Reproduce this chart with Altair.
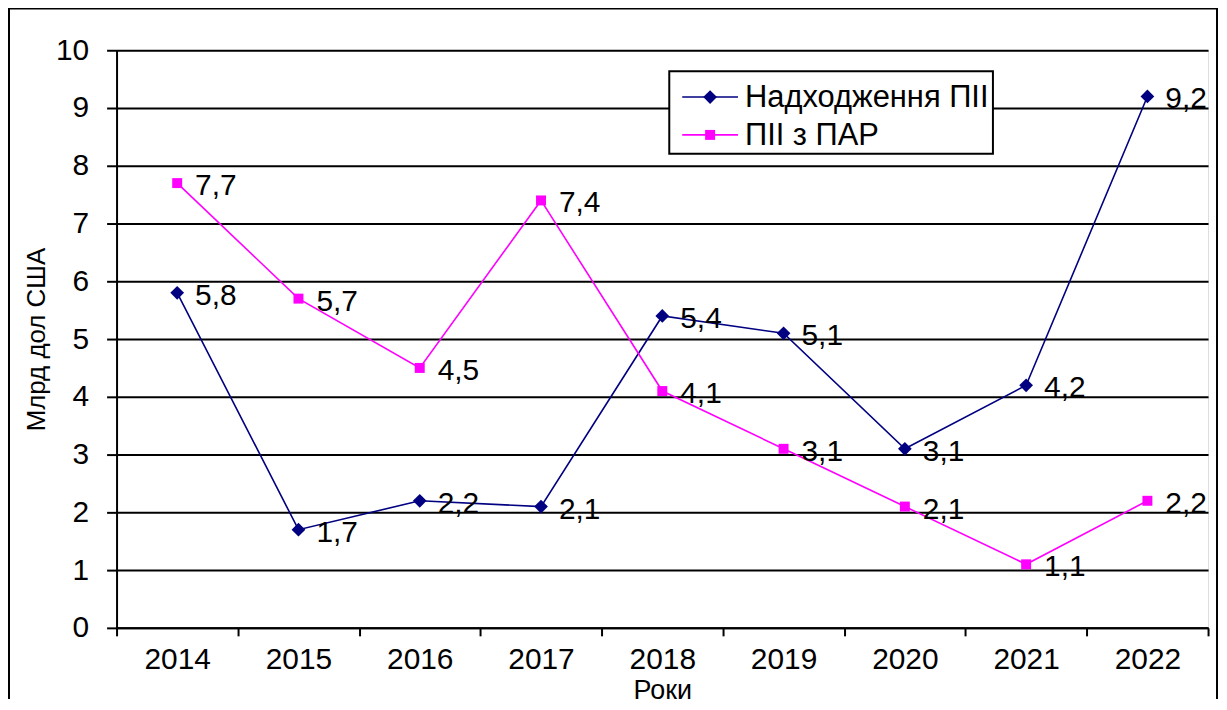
import altair as alt
import pandas as pd

years = ["2014", "2015", "2016", "2017", "2018", "2019", "2020", "2021", "2022"]
series_names = ["Надходження ПІІ", "ПІІ з ПАР"]
inflow = [5.8, 1.7, 2.2, 2.1, 5.4, 5.1, 3.1, 4.2, 9.2]
par = [7.7, 5.7, 4.5, 7.4, 4.1, 3.1, 2.1, 1.1, 2.2]
colors = ["#000080", "#FF00FF"]
shapes = ["diamond", "square"]
marker_sizes = [190, 100]

rows = []
for y, v in zip(years, inflow):
    rows.append({"year": y, "series": series_names[0], "value": v})
for y, v in zip(years, par):
    rows.append({"year": y, "series": series_names[1], "value": v})
df = pd.DataFrame(rows)
legend_df = pd.DataFrame({"series": series_names, "idx": [0, 1]})

FONT = "Liberation Sans"

color_scale = alt.Scale(domain=series_names, range=colors)
shape_scale = alt.Scale(domain=series_names, range=shapes)
size_scale = alt.Scale(domain=series_names, range=marker_sizes)

x_enc = alt.X(
    "year:N",
    title="Роки",
    sort=years,
    scale=alt.Scale(paddingInner=0, paddingOuter=0),
    axis=alt.Axis(
        labelAngle=0, tickBand="extent", tickSize=8, tickColor="black",
        domainColor="black", domainWidth=2, tickWidth=2,
        labelFontSize=30, labelFont=FONT, labelColor="black", labelPadding=9,
        titleFontSize=27, titleFont=FONT, titleColor="black", titleFontWeight="normal",
        titlePadding=3, grid=False,
    ),
)
y_enc = alt.Y(
    "value:Q",
    title="Млрд дол США",
    scale=alt.Scale(domain=[0, 10], nice=False),
    axis=alt.Axis(
        values=list(range(0, 11)), tickSize=10, tickColor="black", tickWidth=2,
        domainColor="black", domainWidth=2,
        grid=True, gridColor="black", gridWidth=2, gridOpacity=1,
        labelFontSize=30, labelFont=FONT, labelColor="black", labelPadding=18,
        titleFontSize=26, titleFont=FONT, titleColor="black", titleFontWeight="normal",
        titlePadding=6,
    ),
)

base = alt.Chart(df)

lines = base.mark_line(strokeWidth=1.6).encode(
    x=x_enc, y=y_enc,
    color=alt.Color("series:N", scale=color_scale, legend=None),
    detail="series:N",
)

points = base.mark_point(filled=True, opacity=1).encode(
    x=x_enc, y=y_enc,
    color=alt.Color("series:N", scale=color_scale, legend=None),
    shape=alt.Shape("series:N", scale=shape_scale, legend=None),
    size=alt.Size("series:N", scale=size_scale, legend=None),
)

labels = base.transform_calculate(
    lbl="replace(format(datum.value, '.1f'), '.', ',')"
).mark_text(align="left", baseline="middle", dx=18, dy=3, fontSize=30, font=FONT, color="black").encode(
    x=x_enc, y=y_enc, text="lbl:N",
)

# manual legend (Excel style: line with marker)
leg_base = alt.Chart(legend_df).transform_calculate(ly="47 + datum.idx * 38")

leg_box = alt.Chart(pd.DataFrame({"a": [0]})).mark_rect(
    fill="white", stroke="black", strokeWidth=2, clip=False
).encode(
    x=alt.value(555), x2=alt.value(880), y=alt.value(21), y2=alt.value(104)
)
leg_lines = leg_base.mark_rule(strokeWidth=1.6, clip=False).encode(
    x=alt.value(568), x2=alt.value(624),
    y=alt.Y("ly:Q", scale=None),
    color=alt.Color("series:N", scale=color_scale, legend=None),
)
leg_points = leg_base.mark_point(filled=True, opacity=1, clip=False).encode(
    x=alt.value(596),
    y=alt.Y("ly:Q", scale=None),
    color=alt.Color("series:N", scale=color_scale, legend=None),
    shape=alt.Shape("series:N", scale=shape_scale, legend=None),
    size=alt.Size("series:N", scale=size_scale, legend=None),
)
leg_text = leg_base.mark_text(
    align="left", baseline="middle", fontSize=31, font=FONT, color="black", dy=1, clip=False
).encode(
    x=alt.value(631),
    y=alt.Y("ly:Q", scale=None),
    text="series:N",
)

frame = alt.Chart(pd.DataFrame({"a": [0]})).mark_rect(
    fill=None, stroke="black", strokeWidth=2, clip=False
).encode(
    x=alt.value(-108), x2=alt.value(1105), y=alt.value(-42), y2=alt.value(700)
)

chart = alt.layer(
    lines, points, labels, leg_box, leg_lines, leg_points, leg_text, frame
).properties(
    width=1096, height=580,
    autosize=alt.AutoSizeParams(type="none"),
    padding={"left": 109, "top": 41, "right": 11, "bottom": 70},
).configure_view(stroke=None).configure(background="white")

chart.save("out.html", embed_options={"renderer": "svg", "actions": False})
